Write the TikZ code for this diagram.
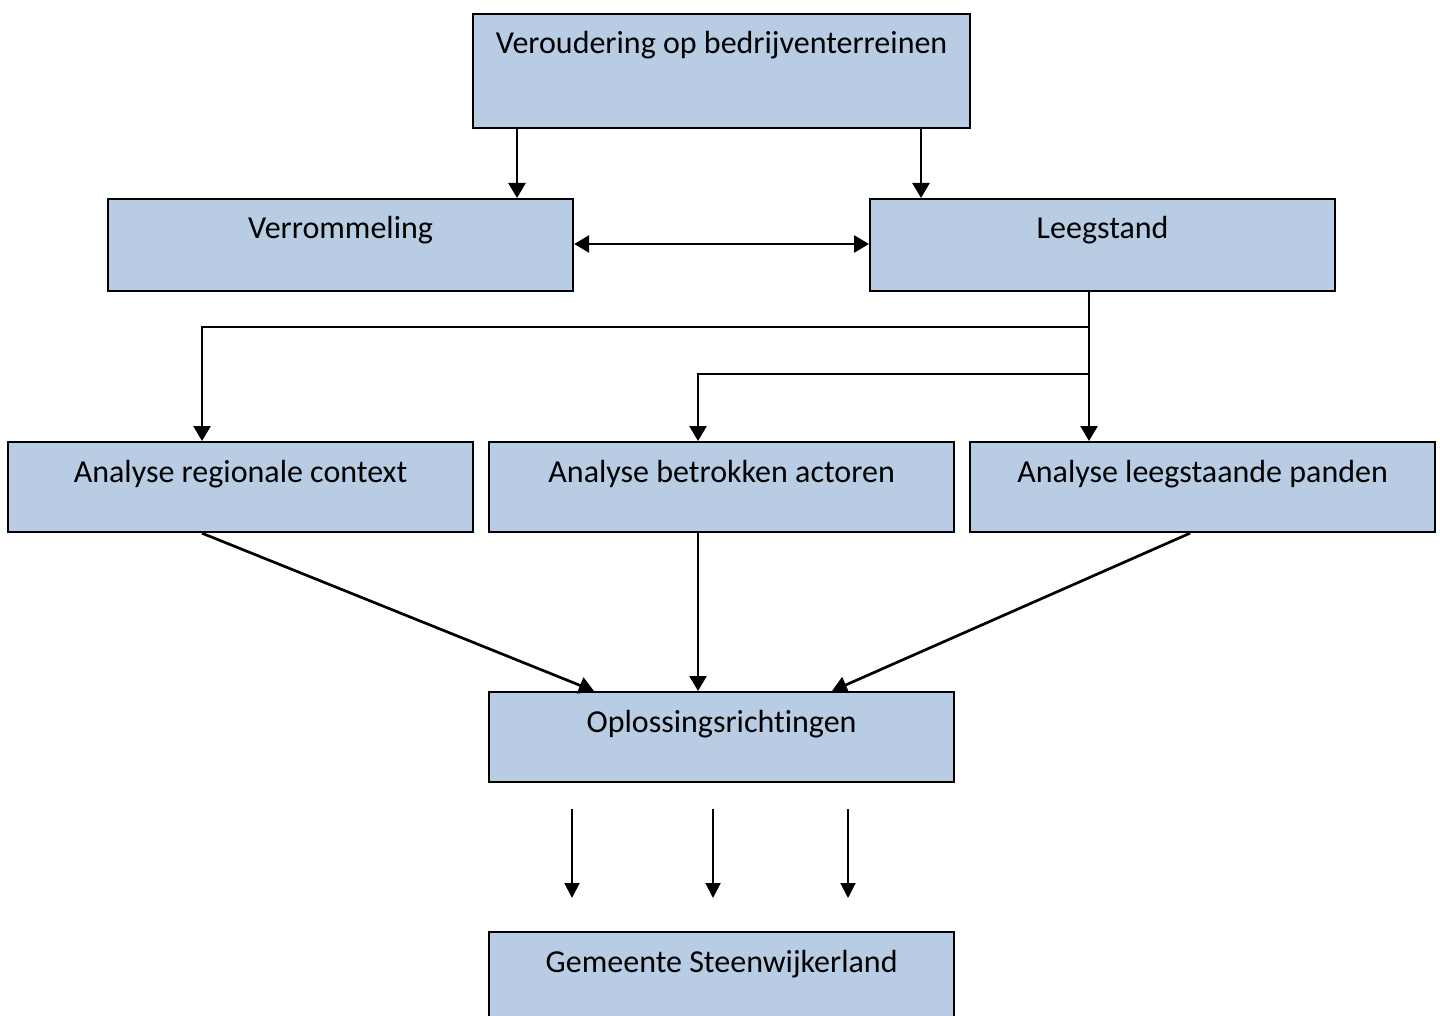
\documentclass[tikz,border=0pt]{standalone}
\usepackage{fontspec}
\setmainfont[Ligatures={NoCommon}]{Carlito}
\usetikzlibrary{arrows.meta,calc}
\definecolor{boxblue}{HTML}{B8CCE4}
\tikzset{
  box/.style={draw=black, line width=2.2pt, fill=boxblue, minimum height=#1, inner sep=0pt, anchor=north west},
  lbl/.style={font=\fontsize{32}{38}\selectfont, inner sep=0pt, anchor=base},
  arr/.style={line width=2.7pt, -{Triangle[width=17pt,length=15pt]}},
  darr/.style={line width=2.7pt, {Triangle[width=17pt,length=15pt]}-{Triangle[width=17pt,length=15pt]}},
  thin/.style={line width=2pt, -{Triangle[width=15pt,length=15pt]}}
}
\begin{document}
\begin{tikzpicture}[x=1pt,y=-1pt]
\useasboundingbox (0,0) rectangle (1440,1016);
% boxes
\node[box=114pt, minimum width=497pt] (top) at (472,13) {};
\node[box=92pt, minimum width=465pt] (ver) at (107,198) {};
\node[box=92pt, minimum width=465pt] (lee) at (869,198) {};
\node[box=90pt, minimum width=465pt] (arc) at (7,441) {};
\node[box=90pt, minimum width=465pt] (aba) at (488,441) {};
\node[box=90pt, minimum width=465pt] (alp) at (969,441) {};
\node[box=90pt, minimum width=465pt] (opl) at (488,691) {};
\node[box=100pt, minimum width=465pt] (gem) at (488,931) {};
% labels
\node[lbl] (ttop) at ($(top.north)+(0,41)$) {Veroudering op bedrijventerreinen};
\node[lbl] (tver) at ($(ver.north)+(0,41)$) {Verrommeling};
\node[lbl] (tlee) at ($(lee.north)+(0,41)$) {Leegstand};
\node[lbl] (tarc) at ($(arc.north)+(0,41)$) {Analyse regionale context};
\node[lbl] (taba) at ($(aba.north)+(0,41)$) {Analyse betrokken actoren};
\node[lbl] (talp) at ($(alp.north)+(0,41)$) {Analyse leegstaande panden};
\node[lbl] (topl) at ($(opl.north)+(0,41)$) {Oplossingsrichtingen};
\node[lbl] (tgem) at ($(gem.north)+(0,41)$) {Gemeente Steenwijkerland};
% connectors
\coordinate (j1) at (1089,327);
\coordinate (j2) at (1089,374);
\draw[arr] (top.south -| 517,0) -- (ver.north -| 517,0);
\draw[arr] (top.south -| 921,0) -- (lee.north -| 921,0);
\draw[darr] (ver.east |- 0,244) -- (lee.west |- 0,244);
\draw[arr] (lee.south -| j1) -- (alp.north -| j1);
\draw[arr] (j1) -| (arc.north -| 202,0);
\draw[arr] (j2) -| (aba.north -| 698,0);
\draw[arr] (arc.south -| 202,0) -- (opl.north -| 594,0);
\draw[arr] (aba.south -| 698,0) -- (opl.north -| 698,0);
\draw[arr] (alp.south -| 1190,0) -- (opl.north -| 832,0);
\coordinate (s1) at (572,809);
\coordinate (s2) at (713,809);
\coordinate (s3) at (848,809);
\coordinate (e1) at (572,898);
\coordinate (e2) at (713,898);
\coordinate (e3) at (848,898);
\draw[thin] (s1) -- (e1);
\draw[thin] (s2) -- (e2);
\draw[thin] (s3) -- (e3);
\end{tikzpicture}
\end{document}
